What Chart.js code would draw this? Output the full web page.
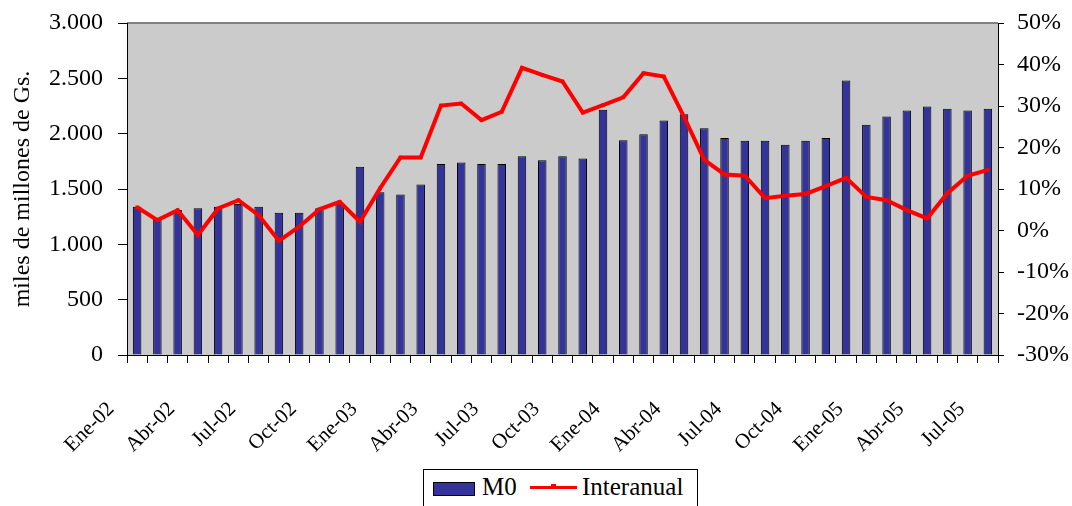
<!DOCTYPE html>
<html>
<head>
<meta charset="utf-8">
<script src="https://cdn.jsdelivr.net/npm/chart.js@4.4.1/dist/chart.umd.min.js"></script>
<style>
  html, body { margin: 0; padding: 0; background: #fff; }
  #wrap { position: relative; width: 1072px; height: 506px; overflow: hidden; }
  #legend {
    position: absolute; left: 423px; top: 469px; width: 273px; height: 45px;
    border: 1px solid #000; background: #fff;
    font-family: "Liberation Serif", "Times New Roman", serif; font-size: 25px; color: #000;
  }
  #legend .sw { position: absolute; left: 9px; top: 12px; width: 40px; height: 12px; background: #333399; border: 1px solid #000; }
  #legend .t1 { position: absolute; left: 58px; top: 3px; }
  #legend .ln { position: absolute; left: 106px; top: 16px; width: 47px; height: 3px; background: #ff0000; }
  #legend .mk { position: absolute; left: 127px; top: 14px; width: 5px; height: 5px; background: #ff0000; }
  #legend .t2 { position: absolute; left: 158px; top: 3px; }
</style>
</head>
<body>
<div id="wrap">
  <canvas id="chart" width="1072" height="506"></canvas>
  <div id="legend">
    <div class="sw"></div><span class="t1">M0</span>
    <div class="ln"></div><div class="mk"></div><span class="t2">Interanual</span>
  </div>
</div>
<script>
// monthly categories, Ene-02 .. Jul-05
const categories = [
  'Ene-02','Feb-02','Mar-02','Abr-02','May-02','Jun-02','Jul-02','Ago-02','Sep-02','Oct-02','Nov-02','Dic-02',
  'Ene-03','Feb-03','Mar-03','Abr-03','May-03','Jun-03','Jul-03','Ago-03','Sep-03','Oct-03','Nov-03','Dic-03',
  'Ene-04','Feb-04','Mar-04','Abr-04','May-04','Jun-04','Jul-04','Ago-04','Sep-04','Oct-04','Nov-04','Dic-04',
  'Ene-05','Feb-05','Mar-05','Abr-05','May-05','Jun-05','Jul-05'
]

// M0, miles de millones de Gs.
const m0 = [
  1340, 1230, 1310, 1325, 1340, 1365, 1340, 1285, 1285, 1325, 1375, 1700,
  1470, 1450, 1540, 1725, 1740, 1725, 1725, 1795, 1760, 1795, 1775, 2215,
  1940, 1995, 2120, 2175, 2050, 1960, 1935, 1935, 1900, 1935, 1960, 2480,
  2080, 2155, 2210, 2245, 2225, 2210, 2225
]

// variacion interanual, %
const interanual = [
  5.6, 2.5, 4.9, -1.1, 5.3, 7.3, 3.7, -2.5, 0.9, 5.1, 6.9, 2.1,
  10.2, 17.6, 17.6, 30.1, 30.6, 26.6, 28.6, 39.2, 37.5, 35.9, 28.4, 30.2,
  32.1, 37.9, 37.1, 27.4, 17.0, 13.5, 13.2, 7.8, 8.4, 8.8, 10.7, 12.7,
  8.1, 7.3, 4.9, 2.9, 9.0, 13.2, 14.6
]

const leftTicks = [0, 500, 1000, 1500, 2000, 2500, 3000]
const rightTicks = [-30, -20, -10, 0, 10, 20, 30, 40, 50]

Chart.defaults.font.family = '"Liberation Serif", "Times New Roman", serif'
Chart.defaults.color = '#000'

// gray plot area with a gray top edge
const plotBackground = {
  id: 'plotBackground',
  beforeDraw(chart) {
    const { ctx, chartArea: a } = chart
    ctx.save()
    ctx.fillStyle = '#cbcbcb'
    ctx.fillRect(a.left, a.top, a.right - a.left, a.bottom - a.top)
    ctx.strokeStyle = '#808080'
    ctx.lineWidth = 2
    ctx.beginPath()
    ctx.moveTo(a.left, a.top)
    ctx.lineTo(a.right, a.top)
    ctx.stroke()
    ctx.restore()
  }
}

// fixed axis sizes, no extra padding from tick labels
function fixVertical(width) {
  return function(scale) {
    scale.width = width
    scale.paddingTop = 0
    scale.paddingBottom = 0
  }
}

new Chart(document.getElementById('chart').getContext('2d'), {
  type: 'bar',
  data: {
    labels: categories,
    datasets: [
      {
        type: 'line',
        label: 'Interanual',
        data: interanual,
        yAxisID: 'y1',
        borderColor: '#ff0000',
        backgroundColor: '#ff0000',
        borderWidth: 4,
        pointStyle: 'rect',
        pointRadius: 2.5,
        pointBorderWidth: 0,
        tension: 0,
        order: 0
      },
      {
        label: 'M0',
        data: m0,
        yAxisID: 'y',
        backgroundColor: '#333399',
        borderColor: '#000',
        borderWidth: 1,
        barPercentage: 0.42,
        categoryPercentage: 1,
        order: 1
      }
    ]
  },
  options: {
    responsive: false,
    animation: false,
    layout: { padding: { top: 23, left: 0, right: 0, bottom: 0 } },
    plugins: {
      legend: { display: false },
      tooltip: { enabled: false }
    },
    scales: {
      x: {
        grid: { offset: true, drawOnChartArea: false, drawTicks: true, tickLength: 8, color: '#000' },
        border: { display: true, color: '#000', width: 1 },
        ticks: {
          autoSkip: false,
          minRotation: 45,
          maxRotation: 45,
          padding: 34,
          labelOffset: -26,
          font: { size: 21 },
          callback: function(value, index) {
            return index % 3 === 0 ? categories[index] : ''
          }
        },
        afterFit: function(scale) {
          scale.height = 151
          scale.paddingLeft = 0
          scale.paddingRight = 0
        }
      },
      y: {
        position: 'left',
        min: 0,
        max: 3000,
        afterBuildTicks: function(scale) { scale.ticks = leftTicks.map(v => ({ value: v })) },
        grid: { drawOnChartArea: false, tickLength: 9, color: '#000' },
        border: { display: true, color: '#000', width: 1 },
        ticks: {
          padding: 15,
          font: { size: 24 },
          callback: function(value) { return value.toLocaleString('de-DE') }
        },
        title: {
          display: true,
          text: 'miles de millones de Gs.',
          font: { size: 24 },
          padding: { top: 8, bottom: 0 }
        },
        afterFit: fixVertical(127)
      },
      y1: {
        position: 'right',
        min: -30,
        max: 50,
        afterBuildTicks: function(scale) { scale.ticks = rightTicks.map(v => ({ value: v })) },
        grid: { drawOnChartArea: false, tickLength: 6, color: '#000' },
        border: { display: true, color: '#000', width: 1 },
        ticks: {
          padding: 13,
          font: { size: 24 },
          callback: function(value) { return value + '%' }
        },
        afterFit: fixVertical(74)
      }
    }
  },
  plugins: [plotBackground]
})
</script>
</body>
</html>
